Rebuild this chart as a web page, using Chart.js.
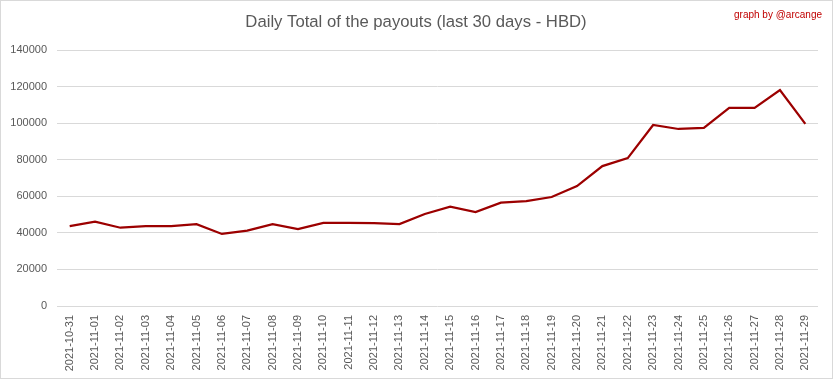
<!DOCTYPE html>
<html>
<head>
<meta charset="utf-8">
<script src="https://cdn.jsdelivr.net/npm/chart.js@4/dist/chart.umd.min.js"></script>
<style>
html,body{margin:0;padding:0;background:#fff;}
#wrap{width:833px;height:379px;position:relative;}
</style>
</head>
<body>
<div id="wrap"><canvas id="c" width="833" height="379"></canvas></div>
<script>
const categories = ["2021-10-31","2021-11-01","2021-11-02","2021-11-03","2021-11-04","2021-11-05","2021-11-06","2021-11-07","2021-11-08","2021-11-09","2021-11-10","2021-11-11","2021-11-12","2021-11-13","2021-11-14","2021-11-15","2021-11-16","2021-11-17","2021-11-18","2021-11-19","2021-11-20","2021-11-21","2021-11-22","2021-11-23","2021-11-24","2021-11-25","2021-11-26","2021-11-27","2021-11-28","2021-11-29"];
const payouts = [43700,46100,42800,43700,43700,44800,39400,41200,44800,42100,45400,45400,45300,44800,50300,54300,51400,56500,57400,59600,65600,76500,80900,99000,96800,97400,108300,108300,118100,99600];
const yTicks = [0,20000,40000,60000,80000,100000,120000,140000];
const titleText = "Daily Total of the payouts (last 30 days - HBD)";
const creditText = "graph by @arcange";

const decor = {
  id:'decor',
  afterDraw(chart){
    const ctx = chart.ctx;
    ctx.save();
    ctx.strokeStyle = '#d9d9d9';
    ctx.lineWidth = 1;
    ctx.strokeRect(0.5,0.5,832,378);
    ctx.fillStyle = '#595959';
    ctx.font = '16.7px "Liberation Sans", Arial, sans-serif';
    ctx.textAlign = 'center';
    ctx.textBaseline = 'middle';
    ctx.fillText(titleText, 416, 22.5);
    ctx.fillStyle = '#c00000';
    ctx.font = '10px "Liberation Sans", Arial, sans-serif';
    ctx.textAlign = 'right';
    ctx.fillText(creditText, 822, 15);
    ctx.restore();
  }
};

new Chart(document.getElementById('c'), {
  type:'line',
  data:{
    labels: categories,
    datasets:[{
      data: payouts,
      borderColor:'#9c0000',
      borderWidth:2.25,
      pointRadius:0,
      tension:0,
      fill:false
    }]
  },
  options:{
    responsive:false,
    animation:false,
    layout:{padding:{top:50,right:15,left:0,bottom:0}},
    plugins:{legend:{display:false},title:{display:false},tooltip:{enabled:false}},
    scales:{
      x:{
        offset:true,
        grid:{display:false,drawTicks:false},
        border:{display:false},
        ticks:{
          autoSkip:false,
          maxRotation:90,minRotation:90,
          padding:9,
          color:'#595959',
          font:{family:'"Liberation Sans", Arial, sans-serif',size:11}
        },
        afterFit(s){ s.height = 379-306; }
      },
      y:{
        min:0,max:140000,
        afterBuildTicks(s){ s.ticks = yTicks.map(v=>({value:v})); },
        grid:{color:'#d9d9d9',drawTicks:false,lineWidth:1},
        border:{display:false},
        ticks:{
          padding:10,
          color:'#595959',
          font:{family:'"Liberation Sans", Arial, sans-serif',size:11},
          callback:(v)=>String(v)
        },
        afterFit(s){ s.width = 57; }
      }
    }
  },
  plugins:[decor]
});
</script>
</body>
</html>
